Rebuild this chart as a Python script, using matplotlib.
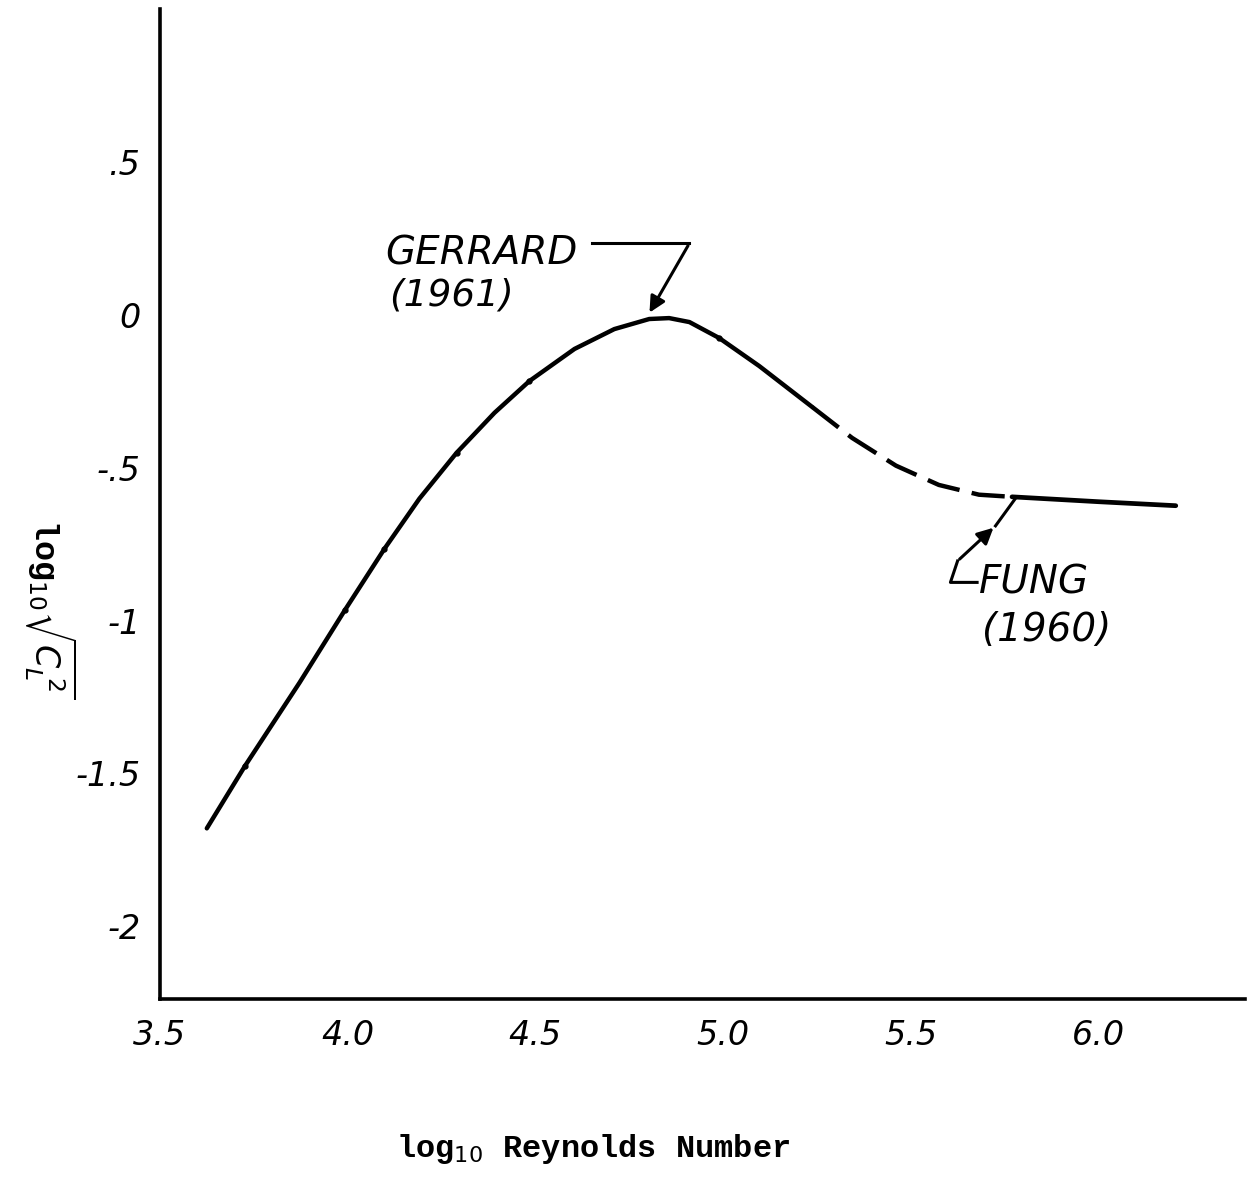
import numpy as np
import matplotlib
matplotlib.use('Agg')
import matplotlib.pyplot as plt

# curve (log10 Re, log10 sqrt(CL^2))
re_solid = [3.625, 3.726, 3.872, 3.992, 4.098, 4.191, 4.290, 4.391, 4.484, 4.604,
            4.710, 4.803, 4.856, 4.910, 4.989, 5.096, 5.237]
cl_solid = [-1.680, -1.477, -1.203, -0.967, -0.765, -0.601, -0.451, -0.320, -0.216, -0.111,
            -0.046, -0.013, -0.010, -0.023, -0.075, -0.167, -0.301]
re_dash = [5.237, 5.343, 5.460, 5.574, 5.681, 5.769]
cl_dash = [-0.301, -0.402, -0.493, -0.556, -0.588, -0.595]
re_fung = [5.769, 6.000, 6.205]
cl_fung = [-0.595, -0.611, -0.624]

# small data marks along the curve
re_pts = [3.726, 3.992, 4.098, 4.290, 4.484, 4.989]
cl_pts = [-1.477, -0.967, -0.765, -0.451, -0.216, -0.075]

xticks = [3.5, 4.0, 4.5, 5.0, 5.5, 6.0]
xlabels = ['3.5', '4.0', '4.5', '5.0', '5.5', '6.0']
yticks = [0.5, 0, -0.5, -1, -1.5, -2]
ylabels = ['.5', '0', '-.5', '-1', '-1.5', '-2']

hand = dict(family='DejaVu Sans', style='italic')
mono = dict(family='Liberation Mono', fontweight='bold')

fig = plt.figure(figsize=(12.49, 11.87), dpi=100)
ax = fig.add_axes([0.128, 0.158, 0.869, 0.834])

ax.plot(re_solid, cl_solid, color='black', lw=3.2, solid_capstyle='round')
ax.plot(re_dash, cl_dash, color='black', lw=3.2, dashes=(7.5, 2.8))
ax.plot(re_fung, cl_fung, color='black', lw=3.4, solid_capstyle='round')
ax.plot(re_pts, cl_pts, 'o', color='black', ms=3.5)

ax.set_xlim(3.5, 6.39)
ax.set_ylim(-2.24, 1.0)

for s in ['top', 'right']:
    ax.spines[s].set_visible(False)
for s in ['left', 'bottom']:
    ax.spines[s].set_linewidth(2.6)

ax.set_xticks(xticks)
ax.set_xticklabels(xlabels, fontsize=24, **hand)
ax.set_yticks(yticks)
ax.set_yticklabels(ylabels, fontsize=24, **hand)
ax.tick_params(length=0, pad=14)

fig.text(0.475, 0.032, r'log$_{10}$ Reynolds Number', fontsize=23,
         ha='center', va='center', **mono)
fig.text(0.040, 0.487, r'log$_{10}\sqrt{C_L^{\ 2}}$', fontsize=24,
         rotation=-90, ha='center', va='center', **mono)

# annotations
ax.text(4.10, 0.20, 'GERRARD', fontsize=28, ha='left', va='center', **hand)
ax.text(4.11, 0.065, '(1961)', fontsize=27, ha='left', va='center', **hand)
ax.plot([4.65, 4.91], [0.235, 0.235], color='black', lw=2.2)
ax.annotate('', xy=(4.80, 0.0), xytext=(4.91, 0.235),
            arrowprops=dict(arrowstyle='-|>', color='black', lw=2.2, mutation_scale=24))

ax.text(5.68, -0.875, 'FUNG', fontsize=28, ha='left', va='center', **hand)
ax.text(5.69, -1.03, '(1960)', fontsize=28, ha='left', va='center', **hand)
ax.plot([5.676, 5.605, 5.624], [-0.875, -0.875, -0.805], color='black', lw=2.2)
ax.annotate('', xy=(5.725, -0.69), xytext=(5.624, -0.805),
            arrowprops=dict(arrowstyle='-|>', color='black', lw=2.2, mutation_scale=24))
ax.plot([5.725, 5.78], [-0.69, -0.597], color='black', lw=2.2)

fig.savefig('out.png', dpi=100, facecolor='white')
